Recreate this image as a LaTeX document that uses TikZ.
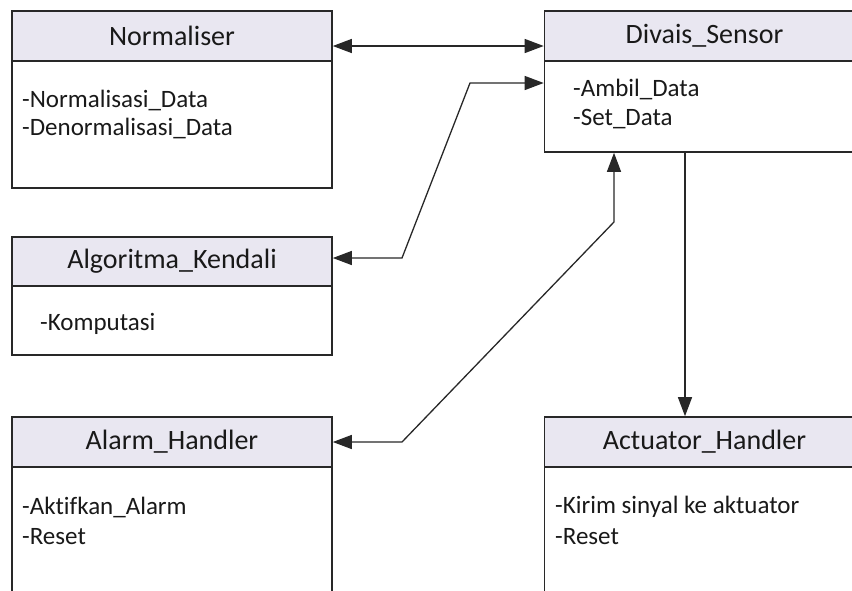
\documentclass[tikz,border=0pt]{standalone}
\usepackage{fontspec}
\setmainfont[Ligatures={NoCommon}]{Carlito}
\usetikzlibrary{arrows.meta}
\definecolor{hdrfill}{RGB}{233,231,241}
\definecolor{linec}{RGB}{40,40,40}
\tikzset{
  x=1pt, y=-1pt,
  hdr/.style={draw=linec, line width=1.6pt, fill=hdrfill, minimum width=320pt, inner sep=0pt,
    font=\fontsize{28}{33}\selectfont, text=black!90},
  bodybox/.style={draw=linec, line width=1.6pt, fill=white, minimum width=320pt, inner sep=0pt},
  item/.style={anchor=west, inner sep=0pt, font=\fontsize{25}{30}\selectfont, text=black!90},
  conn/.style={line width=1.3pt, draw=linec, arrows={Triangle[length=19pt,width=14pt]-Triangle[length=19pt,width=14pt]}},
  connend/.style={line width=1.3pt, draw=linec, -{Triangle[length=19pt,width=14pt]}},
}
\begin{document}
\begin{tikzpicture}
\useasboundingbox (0,0) rectangle (852,590);
\clip (0,0) rectangle (852,590);
% Normaliser
\node[bodybox, minimum height=127pt] (normb) at (172,124.5) {};
\node[hdr, minimum height=50pt] (norm) at (172,36) {Normaliser};
\node[item] (n1) at (22,100) {-Normalisasi\_Data};
\node[item] (n2) at (22,128) {-Denormalisasi\_Data};
% Divais_Sensor
\node[bodybox, minimum height=91pt] (divb) at (704.5,106.5) {};
\node[hdr, minimum height=50pt] (div) at (704.5,36) {Divais\_Sensor};
\node[item] (d1) at (573,89) {-Ambil\_Data};
\node[item] (d2) at (573,119) {-Set\_Data};
% Algoritma_Kendali
\node[bodybox, minimum height=69pt] (algb) at (172,320.5) {};
\node[hdr, minimum height=49pt] (alg) at (172,261.5) {Algoritma\_Kendali};
\node[item] (a1) at (40,324) {-Komputasi};
% Alarm_Handler
\node[bodybox, minimum height=150pt] (alab) at (172,542) {};
\node[hdr, minimum height=50pt] (ala) at (172,442) {Alarm\_Handler};
\node[item] (al1) at (22,507) {-Aktifkan\_Alarm};
\node[item] (al2) at (22,537) {-Reset};
% Actuator_Handler
\node[bodybox, minimum height=150pt] (actb) at (704.5,542) {};
\node[hdr, minimum height=50pt] (act) at (704.5,442) {Actuator\_Handler};
\node[item] (ac1) at (555,507) {-Kirim sinyal ke aktuator};
\node[item] (ac2) at (555,537) {-Reset};
% connectors
\coordinate (k1) at (402,258);
\coordinate (k2) at (470,83);
\coordinate (k3) at (402,442);
\coordinate (k4) at (614,222);
\draw[conn] ([yshift=-10pt]norm.east) -- ([yshift=-10pt]div.west);
\draw[conn] (alg.east |- k1) -- (k1) -- (k2) -- (divb.west |- k2);
\draw[conn] (ala.east) -- (k3) -- (k4) -- (k4 |- divb.south);
\coordinate (k5) at (685,0);
\draw[connend] (k5 |- divb.south) -- (k5 |- act.north);
\end{tikzpicture}
\end{document}
